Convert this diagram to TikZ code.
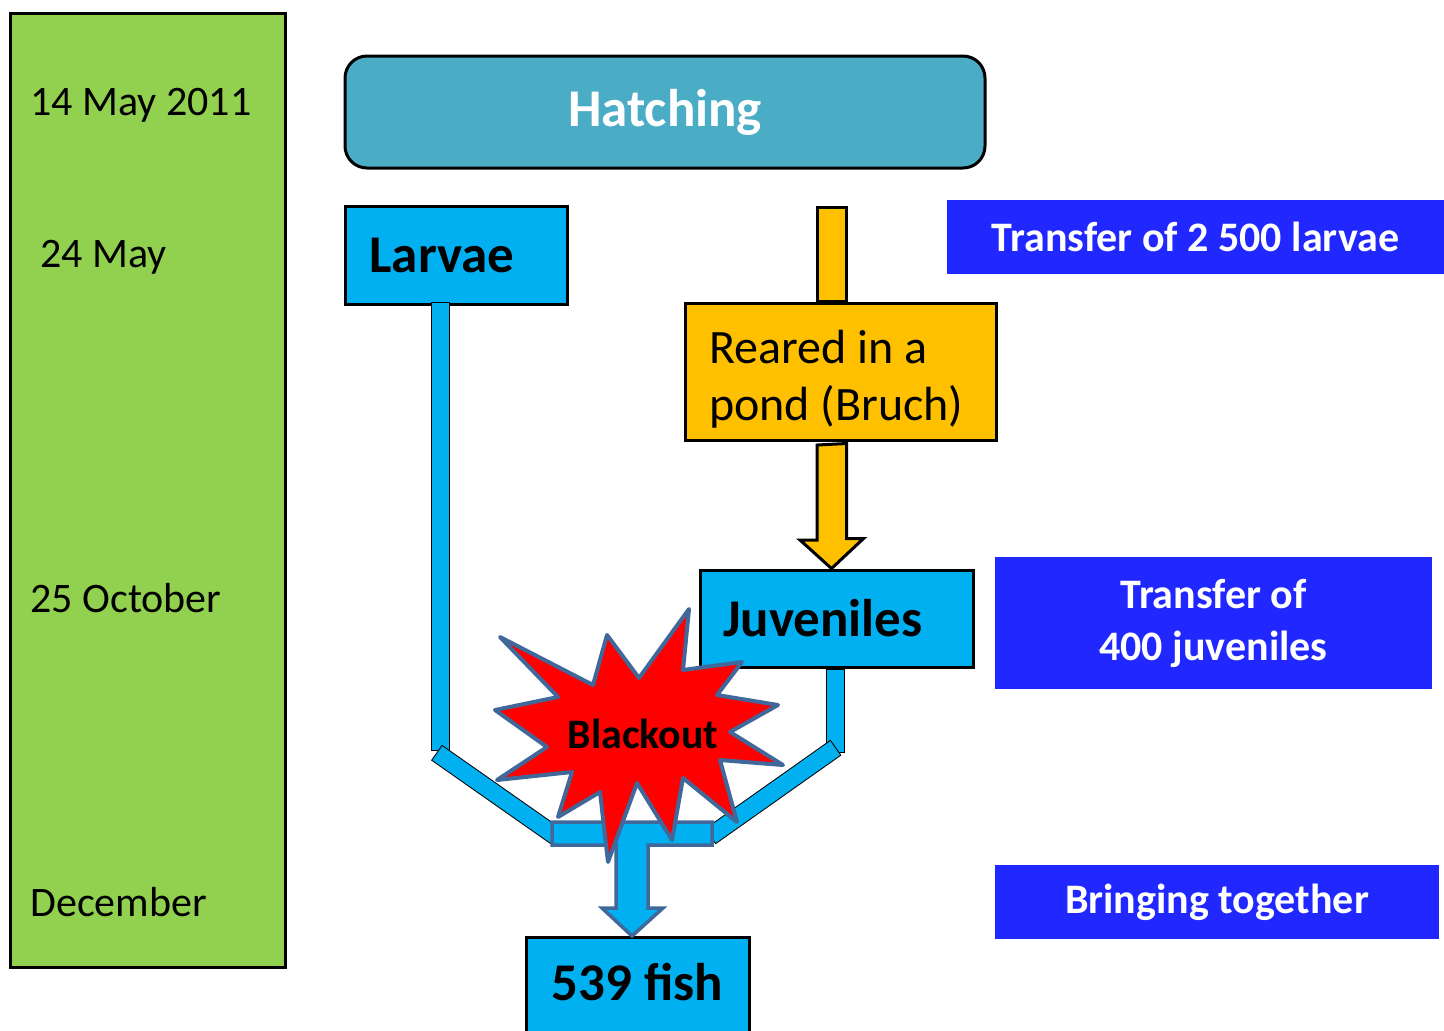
\documentclass[tikz,border=0pt]{standalone}
\usepackage{fontspec}
\setmainfont{Carlito}
\usetikzlibrary{positioning}

\definecolor{timegreen}{HTML}{92D050}
\definecolor{hatchblue}{HTML}{4BACC6}
\definecolor{fishblue}{HTML}{00B0F0}
\definecolor{pondorange}{HTML}{FFC000}
\definecolor{transferblue}{HTML}{2128FF}
\definecolor{steelline}{HTML}{41689A}

\begin{document}
\begin{tikzpicture}
        [x=0.5pt, y=-0.5pt,
        datelabel/.style={anchor=west, inner sep=0pt, font=\fontsize{21}{25}\selectfont},
        stagebox/.style={draw=black, line width=1.5pt, fill=fishblue, align=flush left, font=\bfseries\fontsize{26.5}{30}\selectfont},
        transferbox/.style={fill=transferblue, text=white, align=center, font=\bfseries\fontsize{21}{26}\selectfont},
        pipe/.style={draw=fishblue, line width=8.5pt, line cap=rect, preaction={draw=black, line width=9.5pt, line cap=rect}},
        orangebar/.style={draw=black, line width=1.5pt, fill=pondorange, line join=miter},
        joinbar/.style={draw=steelline, line width=1.75pt, fill=fishblue, line join=miter}]
        \useasboundingbox (0,0) rectangle (1444,1030);

        % time line
        \node[draw=black, line width=1.5pt, fill=timegreen, minimum width=137.5pt, minimum height=477pt] (timeline) at (147.5,490) {};
        \node[datelabel] (may14) at (30,105) {14 May 2011};
        \node[datelabel] (may24) at (40,257) {24 May};
        \node[datelabel] (oct25) at (30,598) {25 October};
        \node[datelabel] (dec) at (30,902) {December};

        % stages
        \node[draw=black, line width=1.5pt, fill=hatchblue, rounded corners=11pt, minimum width=320pt, minimum height=56pt,
              text=white, font=\bfseries\fontsize{26.5}{30}\selectfont] (hatching) at (665,112) {Hatching};
        \node[stagebox, inner xsep=12pt, text width=87pt, minimum height=49pt] (larvae) at (456.5,255) {Larvae};
        \node[stagebox, fill=pondorange, inner xsep=12pt, text width=131.5pt, minimum height=68.5pt, text height=24pt,
              font=\fontsize{24}{28.5}\selectfont] (pond) at (840.5,371.5) {Reared in a\\pond (Bruch)};
        \node[stagebox, inner xsep=11.5pt, text width=113.5pt, minimum height=48.5pt] (juv) at (836.5,618.5) {Juveniles};

        % transfers
        \node[transferbox, minimum width=248.5pt, minimum height=37pt] (tlarvae) at (1195.5,237) {Transfer of 2 500 larvae};
        \node[transferbox, minimum width=218.5pt, minimum height=66pt] (tjuv) at (1213.5,623) {Transfer of\\400 juveniles};
        \node[transferbox, minimum width=222pt, minimum height=37pt] (tbring) at (1217,902) {Bringing together};

        % pond feed and arrow
        \coordinate (feed) at (831.5,207);
        \coordinate (otop) at (831.5,445);
        \draw[orangebar] ([xshift=-7.25pt]feed) rectangle ([xshift=7.25pt]feed |- pond.north);
        \draw[orangebar] (otop) ++(-14.5,0) -- ++(0,95) -- ++(-17,0) -- (juv.north -| otop)
              -- ++(32,-30) -- ++(-17,0) -- ++(0,-95) -- cycle;

        % pipes
        \coordinate (lbend) at (440.5,741);
        \coordinate (rbend) at (835.5,743.5);
        \coordinate (lfork) at (444.3,758);
        \coordinate (ljoin) at (552,833.5);
        \coordinate (rfork) at (828.2,753);
        \coordinate (rjoin) at (717.8,831);
        \draw[pipe] ([yshift=-3pt]larvae.south -| lbend) -- (lbend);
        \draw[pipe] ([yshift=-5pt]juv.south -| rbend) -- (rbend);
        \draw[pipe] (lfork) -- (ljoin);
        \draw[pipe] (rfork) -- (rjoin);

        % bringing together
        \node[stagebox, anchor=north, align=flush center, inner xsep=5.75pt, inner ysep=0pt, text width=100pt,
              text height=31.5pt, text depth=30pt] (fish) at (637.5,936) {539 fish};
        \draw[joinbar] (552,822) -- (712,822) -- (712,845) -- (648,845) -- (648,908) -- (663,908)
              -- (fish.north -| 632,0) -- (602,908) -- (616,908) -- (616,845) -- (552,845) -- cycle;

        % blackout
        \draw[fill=red, draw=steelline, line width=2pt, line join=round]
              (500,637) -- (593,685) -- (607,635) -- (639,678) -- (689,609) -- (683,670)
              -- (742,662) -- (717,695) -- (778,705) -- (730,732) -- (783,765) -- (720,760)
              -- (737,822) -- (683,778) -- (672,840) -- (637,783) -- (608,862) -- (600,792)
              -- (558,817) -- (572,772) -- (497,780) -- (547,747) -- (495,710) -- (558,697) -- cycle;
        \node[font=\bfseries\fontsize{21}{25}\selectfont] (blackout) at (643,734) {Blackout};
    \end{tikzpicture}
\end{document}
